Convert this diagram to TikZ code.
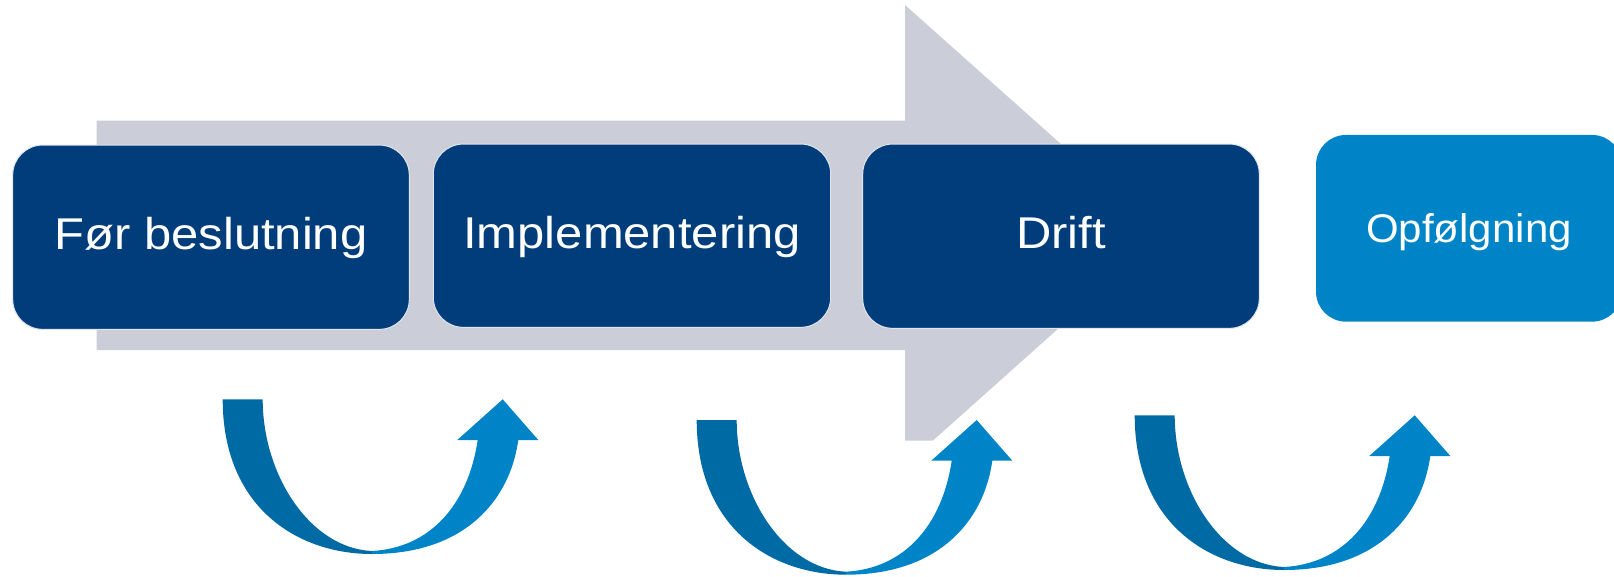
\documentclass[tikz,border=0pt]{standalone}
\usepackage{fontspec}
\setmainfont{Liberation Sans}
\definecolor{navy}{RGB}{0,61,122}
\definecolor{lblue}{RGB}{0,132,200}
\definecolor{dblue}{RGB}{0,106,165}
\definecolor{arrowgray}{RGB}{203,206,216}
\definecolor{edgecol}{RGB}{226,229,236}
\begin{document}
\begin{tikzpicture}[x=1pt,y=-1pt,
  phasebox/.style={rectangle, rounded corners=30pt, fill=navy, draw=edgecol,
    line width=1pt, inner sep=0pt, text=white,
    font=\fontsize{44.5}{50}\selectfont, text height=32pt, text depth=7pt},
  lastbox/.style={phasebox, fill=lblue, draw=none,
    font=\fontsize{40}{46}\selectfont, text height=29pt, text depth=0pt},
  uturn/.pic={
    \fill[dblue] (222.7,399.3) -- (262.7,399.3)
      .. controls (262.7,475) and (310,548) .. (371.7,551)
      -- (372,554)
      .. controls (297.5,554) and (222.7,507.5) .. (222.7,399.3) -- cycle;
    \fill[lblue] (372,554)
      .. controls (465,554) and (510,500) .. (518.3,440)
      -- (538.3,440) -- (502.7,399.3) -- (457.3,440) -- (477.7,440)
      .. controls (468,505) and (430,548) .. (371.7,551) -- cycle;
  }]
\useasboundingbox (0,0) rectangle (1614,576);
\clip (0,0) rectangle (1614,576);
% big background arrow
\fill[arrowgray] (96.7,120.7) -- (905,120.7) -- (905,5) -- (1163,235)
  -- (933,440.5) -- (905,440.5) -- (905,350) -- (96.7,350) -- cycle;
% phase boxes
\node[phasebox, minimum width=396.6pt, minimum height=184.3pt] (b1) at (211,237.2)
  {\scalebox{1.1}[1]{Før beslutning}};
\node[phasebox, minimum width=397.4pt, minimum height=183.3pt] (b2) at (632,235.7)
  {\scalebox{1.1}[1]{Implementering}};
\node[phasebox, minimum width=396.6pt, minimum height=184.3pt] (b3) at (1061,236.2)
  {\scalebox{1.1}[1]{Drift}};
\node[lastbox, minimum width=306pt, minimum height=186.7pt] (b4) at (1469,228.3)
  {\scalebox{1.05}[1]{Opfølgning}};
% curved arrows
\pic (u1) at (0,0) {uturn};
\pic (u2) at (474,20.7) {uturn};
\pic (u3) at (912,16) {uturn};
\end{tikzpicture}
\end{document}
